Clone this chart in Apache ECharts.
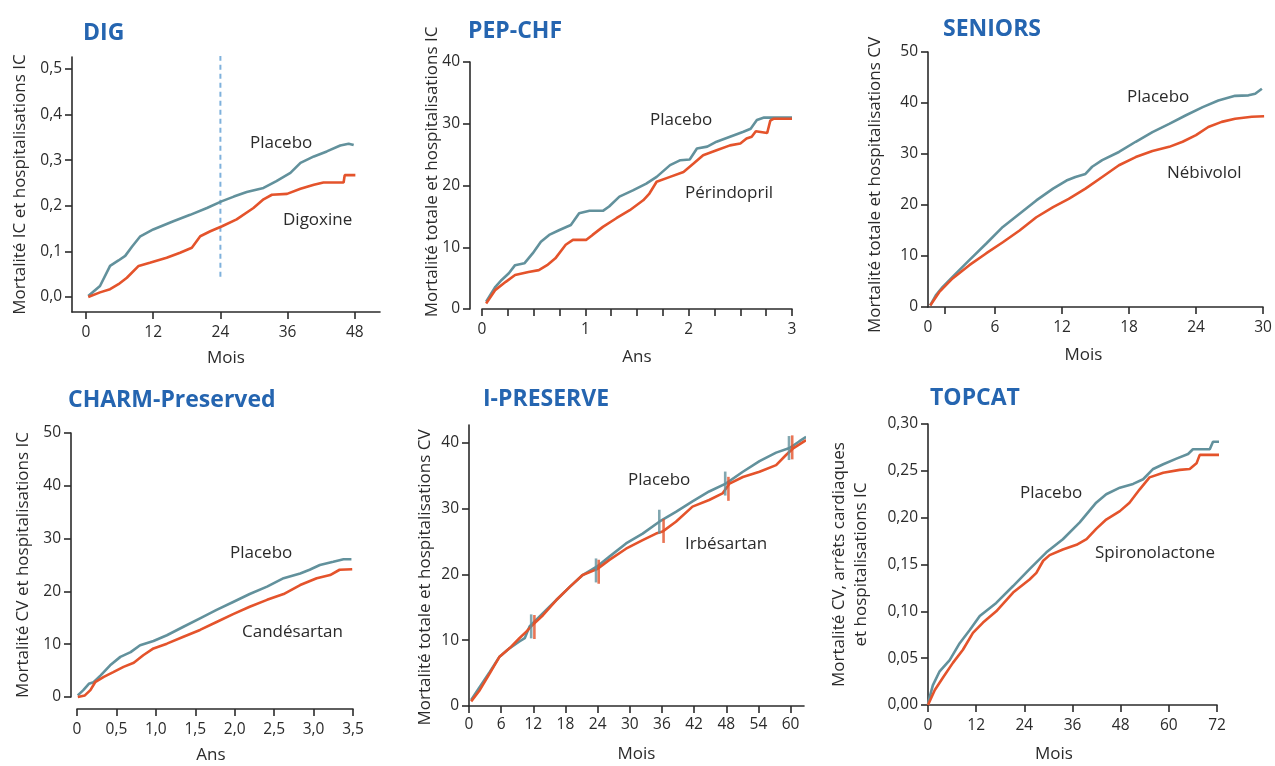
<!DOCTYPE html>
<html><head><meta charset="utf-8">
<script src="https://cdn.jsdelivr.net/npm/echarts@6/dist/echarts.min.js"></script>
<style>html,body{margin:0;padding:0;background:#fff}#c{width:1275px;height:766px}</style>
</head><body><div id="c"></div>
<script>
// ---------- DATA ----------
// DIG (months, proportion)
const digPlaceboX = [0.4, 2.5, 4.3, 5.8, 7.0, 8.2, 9.7, 12.0, 15.6, 18.6, 21.6, 24.3, 26.4, 28.7, 31.7, 34.0, 36.5, 38.3, 40.7, 43.0, 45.4, 46.9, 47.8];
const digPlaceboY = [0.002, 0.024, 0.068, 0.080, 0.090, 0.110, 0.133, 0.148, 0.166, 0.180, 0.195, 0.210, 0.220, 0.230, 0.239, 0.254, 0.272, 0.294, 0.308, 0.319, 0.332, 0.336, 0.333];
const digDrugX = [0.4, 2.5, 4.3, 5.8, 7.3, 9.4, 11.4, 14.4, 16.8, 18.9, 20.4, 22.2, 24.3, 26.9, 29.9, 31.7, 33.2, 35.9, 38.3, 40.7, 42.4, 46.0, 46.2, 48.1];
const digDrugY = [0.000, 0.010, 0.017, 0.028, 0.042, 0.068, 0.075, 0.086, 0.097, 0.108, 0.133, 0.144, 0.155, 0.170, 0.195, 0.214, 0.224, 0.226, 0.237, 0.246, 0.251, 0.251, 0.267, 0.267];
const digRefLineX = [24, 24];
const digRefLineY = [0.044, 0.53];
const digXTicks = [0, 12, 24, 36, 48];
const digYTicks = [0, 0.1, 0.2, 0.3, 0.4, 0.5];

// PEP-CHF (years, %)
const pepPlaceboX = [0.04,0.13,0.19,0.26,0.32,0.41,0.49,0.57,0.65,0.75,0.86,0.94,1.04,1.17,1.23,1.33,1.46,1.59,1.69,1.82,1.92,2.01,2.08,2.18,2.27,2.40,2.53,2.60,2.66,2.73,3.00];
const pepPlaceboY = [1.2,3.6,4.7,5.8,7.1,7.4,9.0,10.9,12.0,12.8,13.6,15.5,15.9,15.9,16.6,18.2,19.2,20.3,21.4,23.3,24.1,24.2,26.0,26.3,27.1,27.9,28.7,29.2,30.6,31.0,31.0];
const pepDrugX = [0.04,0.13,0.23,0.32,0.45,0.55,0.63,0.71,0.81,0.88,1.01,1.07,1.17,1.30,1.43,1.56,1.62,1.69,1.82,1.95,2.05,2.14,2.27,2.40,2.50,2.56,2.61,2.65,2.76,2.79,2.82,3.00];
const pepDrugY = [0.9,3.1,4.4,5.5,6.0,6.3,7.1,8.2,10.4,11.2,11.2,12.0,13.3,14.7,16.0,17.6,18.7,20.6,21.4,22.2,23.6,24.9,25.7,26.5,26.8,27.6,27.9,28.8,28.5,30.5,30.8,30.8];
const pepXTicks = [0,0.25,0.5,0.75,1,1.25,1.5,1.75,2,2.25,2.5,2.75,3];
const pepXLabels = [0, 1, 2, 3];
const pepYTicks = [0, 10, 20, 30, 40];

// SENIORS (months, %)
const senPlaceboX = [0.2,0.7,1.3,2.2,3.7,5.2,6.7,8.2,9.7,11.2,12.4,13.2,14.1,14.7,15.6,17.1,18.6,20.1,21.6,23.1,24.6,26.0,27.5,28.7,29.3,29.9];
const senPlaceboY = [0.3,2.3,3.9,5.9,9.2,12.4,15.7,18.3,20.9,23.2,24.8,25.5,26.1,27.5,28.8,30.4,32.4,34.3,35.9,37.6,39.2,40.5,41.4,41.5,41.8,42.8];
const senDrugX = [0.2,1.0,2.2,3.7,5.2,6.7,8.2,9.7,11.2,12.6,14.1,15.6,17.1,18.6,20.1,21.6,22.8,24.0,25.1,26.3,27.5,29.0,30.1];
const senDrugY = [0.3,2.9,5.6,8.2,10.5,12.7,15.0,17.6,19.6,21.2,23.2,25.5,27.8,29.4,30.6,31.4,32.4,33.7,35.3,36.3,36.9,37.3,37.4];
const senXTicks = [1.5, 6, 12, 18, 24, 30];
const senXLabels = [0, 6, 12, 18, 24, 30];
const senYTicks = [0, 10, 20, 30, 40, 50];

// CHARM-Preserved (years, %)
const charmPlaceboX = [0.01,0.08,0.15,0.21,0.30,0.42,0.55,0.68,0.80,0.97,1.14,1.35,1.56,1.77,1.98,2.19,2.41,2.62,2.83,2.95,3.08,3.25,3.38,3.48];
const charmPlaceboY = [0.3,1.3,2.5,2.8,4.1,6.0,7.6,8.5,9.8,10.6,11.7,13.3,14.9,16.5,18.0,19.5,20.9,22.5,23.4,24.1,25.0,25.6,26.1,26.1];
const charmDrugX = [0.01,0.10,0.17,0.23,0.34,0.46,0.59,0.72,0.84,0.97,1.14,1.35,1.56,1.77,1.98,2.19,2.41,2.62,2.83,3.04,3.21,3.33,3.49];
const charmDrugY = [0.0,0.3,1.3,2.8,3.8,4.7,5.7,6.5,7.9,9.2,10.1,11.4,12.7,14.2,15.7,17.1,18.4,19.5,21.2,22.5,23.1,24.1,24.2];
const charmXTicks = [0, 0.5, 1, 1.5, 2, 2.5, 3, 3.5];
const charmYTicks = [0, 10, 20, 30, 40, 50];

// I-PRESERVE (months, %)
const ipPlaceboX = [0.4,2.0,3.9,5.7,7.6,9.4,10.4,11.3,13.8,16.3,18.8,21.2,23.9,26.2,29.3,32.4,35.5,38.6,41.7,44.8,47.9,51.1,54.2,57.3,59.8,61.6,62.9];
const ipPlaceboY = [0.9,2.9,5.2,7.5,8.8,9.8,10.3,12.1,14.1,16.1,18.1,19.9,21.2,22.7,24.7,26.2,28.0,29.5,31.1,32.6,33.8,35.6,37.2,38.5,39.2,40.2,40.9];
const ipDrugX = [0.4,2.0,3.9,5.7,7.6,9.4,10.7,11.6,13.8,16.3,18.8,21.2,23.9,26.2,29.3,32.4,34.9,36.1,38.6,41.7,44.8,47.3,48.6,51.1,54.2,57.3,59.1,60.4,62.9];
const ipDrugY = [0.7,2.4,5.0,7.5,8.8,10.3,11.3,12.1,13.8,16.1,18.1,19.9,20.8,22.2,23.9,25.2,26.2,26.5,28.0,30.3,31.3,32.3,33.8,34.8,35.6,36.6,38.1,39.1,40.4];
const ipPlaceboCensorX = [11.6, 23.7, 35.5, 47.8, 59.7];
const ipPlaceboCensorY = [12.1, 20.6, 28.0, 33.8, 39.2];
const ipDrugCensorX = [12.2, 24.2, 36.3, 48.4, 60.3];
const ipDrugCensorY = [12.0, 20.4, 26.6, 33.0, 39.3];
const ipXTicks = [0, 6, 12, 18, 24, 30, 36, 42, 48, 54, 60];
const ipYTicks = [0, 10, 20, 30, 40];

// TOPCAT (months, proportion)
const topPlaceboX = [0,0.2,1.2,2.9,5.4,7.9,10.4,12.9,17.0,21.2,25.3,29.5,33.6,37.8,41.9,44.4,47.8,51.1,53.6,56.1,58.6,61.9,64.8,66.0,70.2,71.0,75.6];
const topPlaceboY = [0,0.005,0.021,0.036,0.048,0.066,0.080,0.095,0.109,0.127,0.145,0.163,0.177,0.195,0.216,0.225,0.232,0.236,0.241,0.252,0.257,0.263,0.268,0.273,0.273,0.281,0.281];
const topDrugX = [0,0.2,1.7,3.7,6.2,8.7,11.2,13.7,17.0,21.2,25.3,27.0,28.7,30.3,33.6,37.0,39.5,41.9,44.4,47.8,50.2,52.7,55.2,58.6,62.7,65.2,66.9,67.7,75.6];
const topDrugY = [0,0.002,0.016,0.029,0.045,0.059,0.077,0.088,0.100,0.120,0.134,0.141,0.154,0.160,0.166,0.171,0.177,0.188,0.198,0.207,0.216,0.230,0.243,0.248,0.251,0.252,0.258,0.267,0.267];
const topXTicks = [0, 12, 24, 36, 48, 60, 72];
const topYTicks = [0, 0.05, 0.10, 0.15, 0.20, 0.25, 0.30];

// ---------- STYLE / LAYOUT ----------
const FONT = '"Open Sans", "Noto Sans", sans-serif';
const AX = '#2b2b2b';
const C_PLACEBO = '#62919c';
const C_DRUG = '#e4532b';
const C_TITLE = '#2565b0';

function pairs(xs, ys) { return xs.map((x, i) => [x, ys[i]]); }

function axisBase(extra) {
  const a = {
    type: 'value',
    axisLine: { show: true, onZero: false, lineStyle: { color: AX, width: 1.6 } },
    axisTick: { show: true, length: 7, lineStyle: { color: AX, width: 1.6 } },
    axisLabel: { color: AX, fontSize: 15.5, fontFamily: FONT },
    splitLine: { show: false },
    nameLocation: 'middle',
    nameMoveOverlap: false,
    nameTextStyle: { color: AX, fontSize: 17, fontFamily: FONT }
  };
  for (const k in extra) {
    if (a[k] && typeof a[k] === 'object' && !Array.isArray(a[k]) && typeof extra[k] === 'object' && !Array.isArray(extra[k])) {
      a[k] = Object.assign({}, a[k], extra[k]);
    } else a[k] = extra[k];
  }
  return a;
}

const grids = [
  { left: 72, top: 57, width: 308, height: 255 },    // DIG
  { left: 482, top: 62, width: 310, height: 247 },   // PEP-CHF
  { left: 928, top: 52, width: 335, height: 255 },   // SENIORS
  { left: 77, top: 433, width: 276, height: 264 },   // CHARM
  { left: 469, top: 425, width: 335, height: 281 },  // I-PRESERVE
  { left: 928, top: 424, width: 289, height: 281 }   // TOPCAT
].map(g => Object.assign({ outerBoundsMode: 'none', containLabel: false }, g));

const xAxes = [
  axisBase({ gridIndex: 0, min: -2.5, max: 52.5, name: 'Mois', nameGap: 38,
    axisTick: { customValues: digXTicks }, axisLabel: { customValues: digXTicks, margin: 13 } }),
  axisBase({ gridIndex: 1, min: 0, max: 3, name: 'Ans', nameGap: 40,
    axisTick: { customValues: pepXTicks }, axisLabel: { customValues: pepXLabels, margin: 13 } }),
  axisBase({ gridIndex: 2, min: 0, max: 30, name: 'Mois', nameGap: 40,
    nameTextStyle: { padding: [0, 24, 0, 0] },
    axisTick: { customValues: senXTicks }, axisLabel: { customValues: senXLabels, margin: 13 } }),
  axisBase({ gridIndex: 3, min: 0, max: 3.5, name: 'Ans', nameGap: 38, offset: 12,
    nameTextStyle: { padding: [0, 8, 0, 0] },
    axisTick: { customValues: charmXTicks }, axisLabel: { customValues: charmXTicks, margin: 13 } }),
  axisBase({ gridIndex: 4, min: 0, max: 62.5, name: 'Mois', nameGap: 40,
    axisTick: { customValues: ipXTicks }, axisLabel: { customValues: ipXTicks, margin: 11 } }),
  axisBase({ gridIndex: 5, min: 0, max: 72, name: 'Mois', nameGap: 41,
    nameTextStyle: { padding: [0, 37, 0, 0] },
    axisTick: { customValues: topXTicks }, axisLabel: { customValues: topXTicks, margin: 13 } })
];
xAxes[3].axisLabel.formatter = (v) => (v === 0 ? '0' : v.toFixed(1).replace('.', ','));

const yAxes = [
  axisBase({ gridIndex: 0, min: -0.033, max: 0.526, name: 'Mortalité IC et hospitalisations IC', nameGap: 43,
    axisTick: { customValues: digYTicks }, axisLabel: { customValues: digYTicks, margin: 10, formatter: (v) => v.toFixed(1).replace('.', ',') } }),
  axisBase({ gridIndex: 1, min: 0, max: 40, offset: 12, name: 'Mortalité totale et hospitalisations IC', nameGap: 29,
    nameTextStyle: { padding: [0, 0, 0, 27] },
    axisTick: { customValues: pepYTicks }, axisLabel: { customValues: pepYTicks, margin: 10 } }),
  axisBase({ gridIndex: 2, min: 0, max: 50, name: 'Mortalité totale et hospitalisations CV', nameGap: 44,
    nameTextStyle: { padding: [0, 11, 0, 0] },
    axisTick: { customValues: senYTicks }, axisLabel: { customValues: senYTicks, margin: 10 } }),
  axisBase({ gridIndex: 3, min: 0, max: 50, offset: 6, name: 'Mortalité CV et hospitalisations IC', nameGap: 39,
    axisTick: { customValues: charmYTicks }, axisLabel: { customValues: charmYTicks, margin: 10 } }),
  axisBase({ gridIndex: 4, min: 0, max: 42.7, name: 'Mortalité totale et hospitalisations CV', nameGap: 35,
    nameTextStyle: { padding: [0, 24, 0, 0] },
    axisTick: { customValues: ipYTicks }, axisLabel: { customValues: ipYTicks, margin: 10 } }),
  axisBase({ gridIndex: 5, min: 0, max: 0.30, name: 'Mortalité CV, arrêts cardiaques\net hospitalisations IC', nameGap: 56,
    nameTextStyle: { lineHeight: 21.6 },
    axisTick: { customValues: topYTicks }, axisLabel: { customValues: topYTicks, margin: 10, formatter: (v) => v.toFixed(2).replace('.', ',') } })
];

function lineSeries(i, name, xs, ys, color, extra) {
  return Object.assign({
    type: 'line', name: name, xAxisIndex: i, yAxisIndex: i,
    data: pairs(xs, ys), showSymbol: false, symbol: 'none', clip: false,
    lineStyle: { color: color, width: 2.6 }, itemStyle: { color: color }, z: color === C_PLACEBO ? 3 : 4,
    animation: false
  }, extra || {});
}
function censor(i, xs, ys, color) {
  return {
    type: 'scatter', xAxisIndex: i, yAxisIndex: i, data: pairs(xs, ys),
    symbol: 'rect', symbolSize: [2.6, 24], itemStyle: { color: color }, z: 6, animation: false, silent: true
  };
}

const series = [
  {
    type: 'line', name: 'ref24', xAxisIndex: 0, yAxisIndex: 0, data: pairs(digRefLineX, digRefLineY),
    showSymbol: false, symbol: 'none', silent: true, animation: false, z: 2,
    lineStyle: { color: '#7fb1dc', type: [5, 4], width: 2 }
  },
  lineSeries(0, 'Placebo', digPlaceboX, digPlaceboY, C_PLACEBO),
  lineSeries(0, 'Digoxine', digDrugX, digDrugY, C_DRUG),
  lineSeries(1, 'Placebo', pepPlaceboX, pepPlaceboY, C_PLACEBO),
  lineSeries(1, 'Périndopril', pepDrugX, pepDrugY, C_DRUG),
  lineSeries(2, 'Placebo', senPlaceboX, senPlaceboY, C_PLACEBO),
  lineSeries(2, 'Nébivolol', senDrugX, senDrugY, C_DRUG),
  lineSeries(3, 'Placebo', charmPlaceboX, charmPlaceboY, C_PLACEBO),
  lineSeries(3, 'Candésartan', charmDrugX, charmDrugY, C_DRUG),
  lineSeries(4, 'Placebo', ipPlaceboX, ipPlaceboY, C_PLACEBO),
  lineSeries(4, 'Irbésartan', ipDrugX, ipDrugY, C_DRUG),
  censor(4, ipPlaceboCensorX, ipPlaceboCensorY, C_PLACEBO),
  censor(4, ipDrugCensorX, ipDrugCensorY, C_DRUG),
  lineSeries(5, 'Placebo', topPlaceboX, topPlaceboY, C_PLACEBO),
  lineSeries(5, 'Spironolactone', topDrugX, topDrugY, C_DRUG)
];

const titleDefs = [
  ['DIG', 83, 22], ['PEP-CHF', 468, 20], ['SENIORS', 943, 18],
  ['CHARM-Preserved', 68, 389], ['I-PRESERVE', 483, 388], ['TOPCAT', 930, 387]
];
const titles = titleDefs.map(t => ({
  text: t[0], left: t[1], top: t[2], padding: 0,
  textStyle: { color: C_TITLE, fontSize: 23, fontWeight: 'bold', fontFamily: FONT }
}));

const annotations = [
  ['Placebo', 250, 143], ['Digoxine', 283, 220],
  ['Placebo', 650, 120], ['Périndopril', 685, 193],
  ['Placebo', 1127, 97], ['Nébivolol', 1167, 173],
  ['Placebo', 230, 553], ['Candésartan', 242, 632],
  ['Placebo', 628, 480], ['Irbésartan', 685, 544],
  ['Placebo', 1020, 493], ['Spironolactone', 1095, 553]
];
const graphic = annotations.map(a => ({
  type: 'text', x: a[1], y: a[2], silent: true,
  style: { text: a[0], fill: '#2b2b2b', font: '17px ' + FONT, verticalAlign: 'middle', align: 'left' }
}));

const chart = echarts.init(document.getElementById('c'), null, { renderer: 'canvas' });
chart.setOption({
  backgroundColor: '#ffffff',
  animation: false,
  title: titles,
  grid: grids,
  xAxis: xAxes,
  yAxis: yAxes,
  series: series,
  graphic: graphic
});
</script>
</body></html>
